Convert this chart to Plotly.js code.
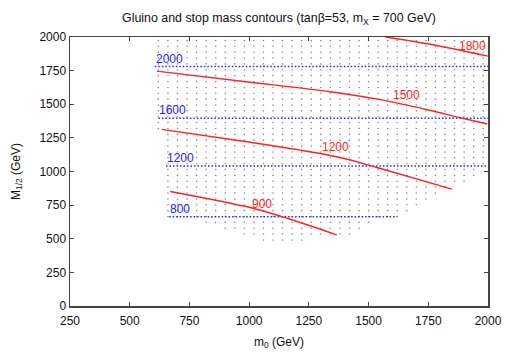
<!DOCTYPE html>
<html>
<head>
<meta charset="utf-8">
<script src="https://cdn.plot.ly/plotly-3.0.1.min.js"></script>
<style>html,body{margin:0;padding:0;background:#fff;}#chart{width:509px;height:357px;}</style>
</head>
<body>
<div id="chart"></div>
<script>
// ---- data ----
// scan grid columns (m0, GeV)
var scanCols = [620,660,700,740,780,820,860,900,940,980,1020,1060,1100,1140,1180,1220,1260,1300,1340,1380,1420,1460,1500,1540,1580,1620,1660,1700,1740,1780,1820,1860,1900,1940,1980];
// scan grid rows (M1/2, GeV) with the m0 range covered in each row
var scanRows = [491,535,578,622,665,709,753,796,840,884,927,971,1015,1058,1102,1145,1189,1233,1276,1320,1364,1407,1451,1494,1538,1582,1625,1669,1713,1756,1800,1844,1887,1931,1973];
var rowMin  = [1060,980,900,820,660,660,660,660,660,660,660,660,660,660,660,660,660,660,660,620,620,620,620,620,620,620,620,620,620,620,620,620,620,620,620];
var rowMax  = [1220,1420,1460,1500,1620,1660,1700,1740,1780,1820,1900,1940,1940,1980,1980,1980,1980,1980,1980,1980,1980,1980,1980,1980,1980,1980,1980,1980,1980,1980,1980,1980,1980,1980,1980];

// gluino mass contours (red)
var gluinoLevels = ["900","1200","1500","1800"];
var gluinoM0  = [[669,1004,1172,1367],[634,962,1214,1381,1535,1849],[614,1004,1339,1549,1746,1884,1997],[1570,1758,2000]];
var gluinoM12 = [[851,732,645,529],[1313,1229,1159,1104,1030,869],[1746,1664,1593,1534,1459,1400,1353],[2000,1946,1858]];
var gluinoLabelM0  = [1053,1360,1660,1934];
var gluinoLabelM12 = [762,1179,1569,1936];

// stop mass contours (blue, dotted)
var stopLevels = ["800","1200","1600","2000"];
var stopM12   = [663,1040,1395,1780];
var stopStart = [665,652,620,605];
var stopEnd   = [1620,2000,2000,2000];

var xTicks = [250,500,750,1000,1250,1500,1750,2000];
var yTicks = [0,250,500,750,1000,1250,1500,1750,2000];

// ---- build traces ----
var dx = [], dy = [];
for (var r = 0; r < scanRows.length; r++) {
  for (var c = 0; c < scanCols.length; c++) {
    if (scanCols[c] >= rowMin[r] && scanCols[c] <= rowMax[r]) { dx.push(scanCols[c]); dy.push(scanRows[r]); }
  }
}
var FONT = 'Liberation Sans, Arial, Helvetica, sans-serif';
var RED = '#ff2222', BLUE = '#2222ff';
var traces = [{
  x: dx, y: dy, type: 'scatter', mode: 'markers',
  marker: {size: 1.6, color: '#8a8a8a'}, hoverinfo: 'skip'
}];
var annotations = [];
for (var i = 0; i < stopLevels.length; i++) {
  traces.push({x: [stopStart[i], stopEnd[i]], y: [stopM12[i], stopM12[i]], type: 'scatter', mode: 'lines',
    line: {color: BLUE, width: 1.5, dash: '1.5px,2px'}, hoverinfo: 'skip'});
  annotations.push({x: stopStart[i], y: stopM12[i], text: stopLevels[i], showarrow: false,
    xanchor: 'left', yanchor: 'bottom', xshift: -1, yshift: -1, font: {family: FONT, size: 12, color: BLUE}});
}
for (var j = 0; j < gluinoLevels.length; j++) {
  traces.push({x: gluinoM0[j], y: gluinoM12[j], type: 'scatter', mode: 'lines',
    line: {color: RED, width: 1.4, shape: 'spline', smoothing: 0.8}, hoverinfo: 'skip'});
  annotations.push({x: gluinoLabelM0[j], y: gluinoLabelM12[j], text: gluinoLevels[j], showarrow: false,
    xanchor: 'center', yanchor: 'middle', font: {family: FONT, size: 12, color: RED}});
}

var axisCommon = {
  showline: true, linecolor: '#444', linewidth: 1.5, mirror: 'ticks',
  ticks: 'inside', ticklen: 4, tickwidth: 1.2, tickcolor: '#444',
  showgrid: false, zeroline: false, tickfont: {family: FONT, size: 12, color: '#111'}
};
var layout = {
  width: 509, height: 357,
  margin: {l: 70, r: 21, t: 37, b: 51},
  paper_bgcolor: '#fff', plot_bgcolor: '#fff',
  showlegend: false,
  font: {family: FONT, size: 12, color: '#111'},
  title: {text: 'Gluino and stop mass contours (tanβ=53, m<sub>X</sub> = 700 GeV)',
    font: {family: FONT, size: 12.4, color: '#111'}, xref: 'paper', x: 0.5, xanchor: 'center',
    yref: 'container', y: 0.95, yanchor: 'middle'},
  xaxis: Object.assign({}, axisCommon, {range: [250, 2000], tickvals: xTicks, ticktext: xTicks.map(String),
    ticklabelstandoff: 3,
    title: {text: 'm<sub>0</sub> (GeV)', font: {family: FONT, size: 12, color: '#111'}, standoff: 10}}),
  yaxis: Object.assign({}, axisCommon, {range: [0, 2000], tickvals: yTicks, ticktext: yTicks.map(String),
    title: {text: 'M<sub>1/2</sub> (GeV)', font: {family: FONT, size: 12, color: '#111'}, standoff: 16}}),
  annotations: annotations
};
Plotly.newPlot('chart', traces, layout, {staticPlot: true, displayModeBar: false});
</script>
</body>
</html>
